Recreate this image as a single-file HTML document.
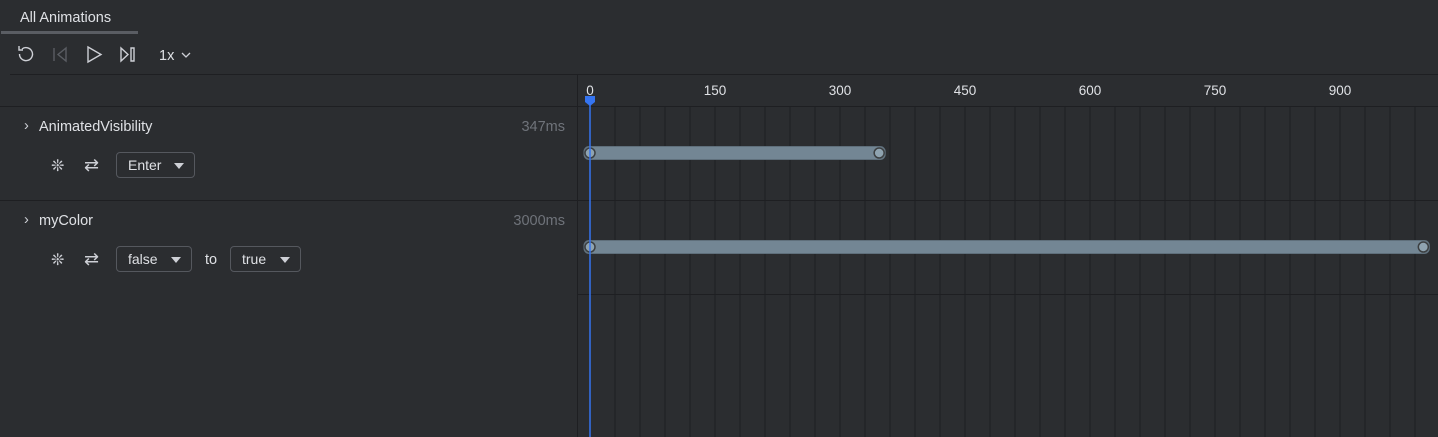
<!DOCTYPE html>
<html><head><meta charset="utf-8"><style>
body{margin:0;width:1438px;height:437px;background:#2b2d30;overflow:hidden;font-family:"Liberation Sans",sans-serif;color:#dfe1e5;position:relative}
.abs{position:absolute}
.t{font-size:14.5px}
.dd{position:absolute;height:26px;border:1px solid #55585e;border-radius:4px;box-sizing:border-box;font-size:14px;line-height:24px;padding-left:11px;color:#dfe1e5}
.dd:after{content:"";position:absolute;right:10px;top:10px;border-left:5px solid transparent;border-right:5px solid transparent;border-top:6px solid #ced0d6}
.ic{position:absolute;color:#ced0d6;font-size:16px}
</style></head><body>
<div class="abs" style="left:20px;top:10px;font-size:14.5px">All Animations</div>
<div class="abs" style="left:1px;top:31px;width:137px;height:3px;background:#5a5d63"></div>
<svg class="abs" style="left:14px;top:42px" width="200" height="26">
 <g fill="none" stroke="#ced0d6" stroke-width="1.4"><path d="M8 7 A6.5 6.5 0 1 1 5.5 12"/><path d="M5 4 L5 8 L9 8"/></g>
 <g fill="none" stroke="#5a5d63" stroke-width="1.4"><path d="M40 6 V19 M52 6 L44 12.5 L52 19 Z"/></g>
 <g fill="none" stroke="#ced0d6" stroke-width="1.4"><path d="M74 5 L87 12.5 L74 20 Z"/></g>
 <g fill="none" stroke="#ced0d6" stroke-width="1.4"><path d="M107 6 L114 12.5 L107 19 Z M117 6 H120 V19 H117 Z"/></g>
 <text x="145" y="18" font-size="14.5" fill="#dfe1e5" font-family="Liberation Sans">1x</text>
 <path d="M168 11 L172 15 L176 11" fill="none" stroke="#ced0d6" stroke-width="1.3"/>
</svg>
<div class="abs" style="left:10px;top:74px;width:1428px;height:1px;background:#1e1f22"></div>
<div class="abs" style="left:0;top:106px;width:1438px;height:1px;background:#1e1f22"></div>
<div class="abs" style="left:0;top:200px;width:1438px;height:1px;background:#1e1f22"></div>
<div class="abs" style="left:577px;top:75px;width:1px;height:362px;background:#1e1f22"></div>

<div class="abs t" style="left:24px;top:118px;color:#ced0d6">›</div>
<div class="abs t" style="left:39px;top:119px">AnimatedVisibility</div>
<div class="abs t" style="right:873px;top:119px;color:#6f737a">347ms</div>
<div class="ic" style="left:51px;top:156px">❊</div>
<div class="ic" style="left:84px;top:155px;font-size:18px">⇄</div>
<div class="dd" style="left:116px;top:152px;width:79px">Enter</div>

<div class="abs t" style="left:24px;top:212px;color:#ced0d6">›</div>
<div class="abs t" style="left:39px;top:213px">myColor</div>
<div class="abs t" style="right:873px;top:213px;color:#6f737a">3000ms</div>
<div class="ic" style="left:51px;top:250px">❊</div>
<div class="ic" style="left:84px;top:249px;font-size:18px">⇄</div>
<div class="dd" style="left:116px;top:246px;width:76px">false</div>
<div class="abs t" style="left:205px;top:252px">to</div>
<div class="dd" style="left:230px;top:246px;width:71px">true</div>

<svg id="tl" class="abs" style="left:0;top:0" width="1438" height="437"></svg>
<script>
const ticks=[0,150,300,450,600,750,900];
const names=["AnimatedVisibility","myColor"];
const durations=[347,3000];
const maxMs=1000;
const NS="http://www.w3.org/2000/svg";
const svg=document.getElementById('tl');
const x0=590,pxPerMs=125/150;
const X=v=>x0+Math.min(v,maxMs)*pxPerMs;
function mk(t,a){const e=document.createElementNS(NS,t);for(const k in a)e.setAttribute(k,a[k]);svg.appendChild(e);return e;}
for(let v=30;v<maxMs+20;v+=30){const l=mk('line',{x1:X(v),x2:X(v),y1:107,y2:437,stroke:'#1e1f22','stroke-width':1});

}
mk('line',{x1:578,x2:1438,y1:294.5,y2:294.5,stroke:'#1e1f22'});
ticks.forEach(v=>{const t=mk('text',{x:X(v),y:95,'text-anchor':'middle','font-size':13.5,fill:'#dfe1e5','font-family':'Liberation Sans'});t.textContent=v;

});
const ys=[153,247];
durations.forEach((d,i)=>{const y=ys[i];
const b=mk('rect',{x:X(0)-6,y:y-6.5,width:X(d)-X(0)+12,height:13,rx:5,fill:'#738694',stroke:'#5f6f7b','stroke-width':1});


[0,d].forEach(v=>{const c=mk('circle',{cx:X(v),cy:y,r:5,fill:'#8fa3b0',stroke:'#3c3f41','stroke-width':1.5});

});});
const ph=mk('line',{x1:X(0),x2:X(0),y1:96,y2:437,stroke:'#3574f0','stroke-width':1.5});


const pk=mk('path',{d:`M${X(0)-5} 96 H${X(0)+5} V102 L${X(0)} 106 L${X(0)-5} 102 Z`,fill:'#3574f0'});


</script>
</body></html>
